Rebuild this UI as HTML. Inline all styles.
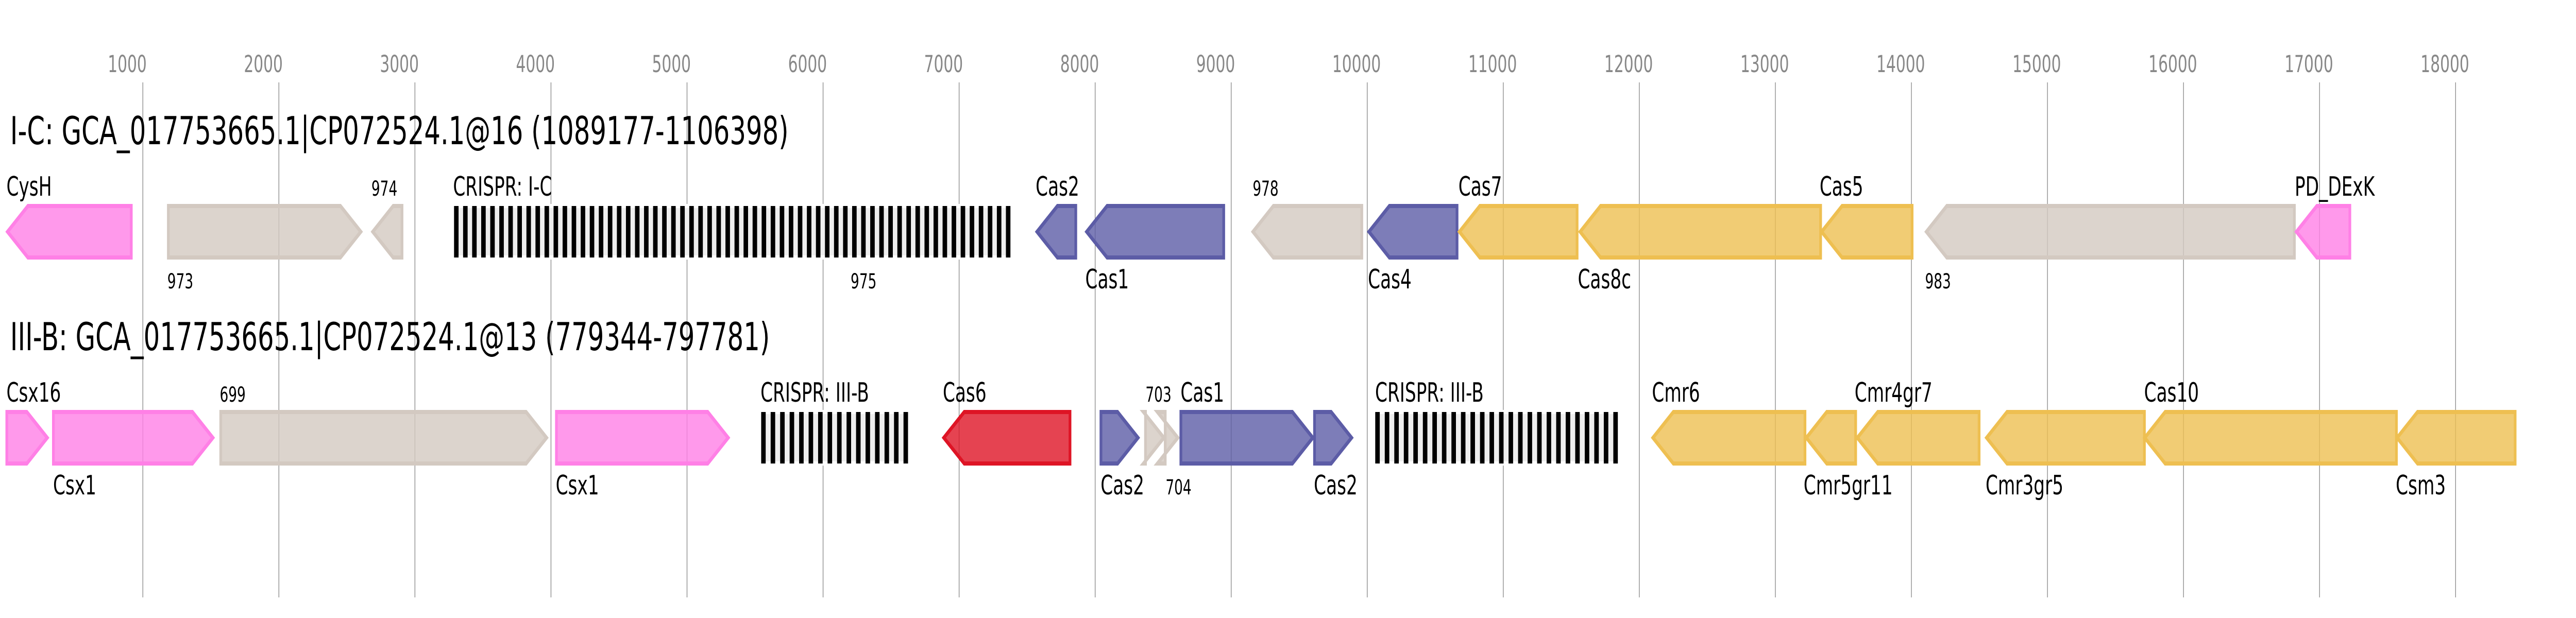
<!DOCTYPE html>
<html>
<head>
<meta charset="utf-8">
<style>
html,body{margin:0;padding:0;background:#fff;width:100%;height:100%;overflow:hidden;}
svg{display:block;width:100vw;height:100vh;}
text{font-family:"DejaVu Sans",sans-serif;fill:#000;}
.t{font-size:75.3px;}
.l{font-size:52px;}
.s{font-size:40px;}
.k{font-size:45px;fill:#888;}
.p{fill:#ff80e6;stroke:#ff80e6;}
.g{fill:#d3c9c1;stroke:#d3c9c1;}
.b{fill:#5c5ca6;stroke:#5c5ca6;}
.y{fill:#eebf51;stroke:#eebf51;}
.r{fill:#de1425;stroke:#de1425;}
polygon{stroke-width:8;fill-opacity:.8;stroke-linejoin:miter;stroke-miterlimit:10;}
.c{fill:#eee;stroke:#fff;stroke-width:8;}
.d{stroke:#000;stroke-width:100;}
</style>
</head>
<body>
<svg xmlns="http://www.w3.org/2000/svg" viewBox="0 0 7574 1200" preserveAspectRatio="none">
<rect width="7574" height="1200" fill="#fff"/>
<g stroke="#888" stroke-width="2">
<line x1="420" y1="160" x2="420" y2="1160"/>
<line x1="820" y1="160" x2="820" y2="1160"/>
<line x1="1220" y1="160" x2="1220" y2="1160"/>
<line x1="1620" y1="160" x2="1620" y2="1160"/>
<line x1="2020" y1="160" x2="2020" y2="1160"/>
<line x1="2420" y1="160" x2="2420" y2="1160"/>
<line x1="2820" y1="160" x2="2820" y2="1160"/>
<line x1="3220" y1="160" x2="3220" y2="1160"/>
<line x1="3620" y1="160" x2="3620" y2="1160"/>
<line x1="4020" y1="160" x2="4020" y2="1160"/>
<line x1="4420" y1="160" x2="4420" y2="1160"/>
<line x1="4820" y1="160" x2="4820" y2="1160"/>
<line x1="5220" y1="160" x2="5220" y2="1160"/>
<line x1="5620" y1="160" x2="5620" y2="1160"/>
<line x1="6020" y1="160" x2="6020" y2="1160"/>
<line x1="6420" y1="160" x2="6420" y2="1160"/>
<line x1="6820" y1="160" x2="6820" y2="1160"/>
<line x1="7220" y1="160" x2="7220" y2="1160"/>
</g>
<g class="tk">
<text class="k" x="317" y="140">1000</text>
<text class="k" x="717" y="140">2000</text>
<text class="k" x="1117" y="140">3000</text>
<text class="k" x="1517" y="140">4000</text>
<text class="k" x="1917" y="140">5000</text>
<text class="k" x="2317" y="140">6000</text>
<text class="k" x="2717" y="140">7000</text>
<text class="k" x="3117" y="140">8000</text>
<text class="k" x="3517" y="140">9000</text>
<text class="k" x="3917" y="140">10000</text>
<text class="k" x="4317" y="140">11000</text>
<text class="k" x="4717" y="140">12000</text>
<text class="k" x="5117" y="140">13000</text>
<text class="k" x="5517" y="140">14000</text>
<text class="k" x="5917" y="140">15000</text>
<text class="k" x="6317" y="140">16000</text>
<text class="k" x="6717" y="140">17000</text>
<text class="k" x="7117" y="140">18000</text>
</g>

<!-- Row 1 -->
<text class="t" x="30" y="280">I-C: GCA_017753665.1|CP072524.1@16 (1089177-1106398)</text>
<polygon class="p" points="386,400 82,400 22,450 82,500 386,500"/>
<polygon class="g" points="495,400 1001,400 1061,450 1001,500 495,500"/>
<polygon class="g" points="1182,400 1156,400 1096,450 1156,500 1182,500"/>
<rect class="c" x="1335" y="400" width="1636" height="100"/>
<line class="d" x1="1335" y1="450" x2="2971" y2="450" stroke-dasharray="13.3 13.3"/>
<polygon class="b" points="3163,400 3109,400 3049,450 3109,500 3163,500"/>
<polygon class="b" points="3598,400 3255,400 3195,450 3255,500 3598,500"/>
<polygon class="g" points="4004,400 3744,400 3684,450 3744,500 4004,500"/>
<polygon class="b" points="4284,400 4085,400 4025,450 4085,500 4284,500"/>
<polygon class="y" points="4637,400 4351,400 4291,450 4351,500 4637,500"/>
<polygon class="y" points="5353,400 4706,400 4646,450 4706,500 5353,500"/>
<polygon class="y" points="5622,400 5416,400 5356,450 5416,500 5622,500"/>
<polygon class="g" points="6746,400 5724,400 5664,450 5724,500 6746,500"/>
<polygon class="p" points="6909,400 6812,400 6752,450 6812,500 6909,500"/>

<text class="l" x="19" y="380">CysH</text>
<text class="s" x="1092" y="380">974</text>
<text class="l" x="1332" y="380">CRISPR: I-C</text>
<text class="l" x="3045" y="380">Cas2</text>
<text class="s" x="3683" y="380">978</text>
<text class="l" x="4288" y="380">Cas7</text>
<text class="l" x="5350" y="380">Cas5</text>
<text class="l" x="6747" y="380">PD_DExK</text>
<text class="s" x="492" y="560">973</text>
<text class="s" x="2501" y="560">975</text>
<text class="l" x="3191" y="560">Cas1</text>
<text class="l" x="4022" y="560">Cas4</text>
<text class="l" x="4639" y="560">Cas8c</text>
<text class="s" x="5660" y="560">983</text>

<!-- Row 2 -->
<text class="t" x="30" y="680">III-B: GCA_017753665.1|CP072524.1@13 (779344-797781)</text>
<polygon class="p" points="20,800 79,800 139,850 79,900 20,900"/>
<polygon class="p" points="157,800 566,800 626,850 566,900 157,900"/>
<polygon class="g" points="649,800 1547,800 1607,850 1547,900 649,900"/>
<polygon class="p" points="1636,800 2081,800 2141,850 2081,900 1636,900"/>
<rect class="c" x="2238" y="800" width="433" height="100"/>
<line class="d" x1="2238" y1="850" x2="2671" y2="850" stroke-dasharray="13.3 14.6"/>
<polygon class="r" points="3146,800 2835,800 2775,850 2835,900 3146,900"/>
<polygon class="b" points="3237,800 3286,800 3346,850 3286,900 3237,900"/>
<polygon class="g" points="3368,800 3362,800 3422,850 3362,900 3368,900"/>
<polygon class="g" points="3426,800 3403,800 3463,850 3403,900 3426,900"/>
<polygon class="b" points="3472,800 3800,800 3860,850 3800,900 3472,900"/>
<polygon class="b" points="3865,800 3914,800 3974,850 3914,900 3865,900"/>
<rect class="c" x="4043.5" y="800" width="713.5" height="100"/>
<line class="d" x1="4043.5" y1="850" x2="4757" y2="850" stroke-dasharray="13.3 14.7"/>
<polygon class="y" points="5307,800 4920,800 4860,850 4920,900 5307,900"/>
<polygon class="y" points="5456,800 5371,800 5311,850 5371,900 5456,900"/>
<polygon class="y" points="5819,800 5521,800 5461,850 5521,900 5819,900"/>
<polygon class="y" points="6305,800 5901,800 5841,850 5901,900 6305,900"/>
<polygon class="y" points="7046,800 6366,800 6306,850 6366,900 7046,900"/>
<polygon class="y" points="7395,800 7108,800 7048,850 7108,900 7395,900"/>

<text class="l" x="19" y="780">Csx16</text>
<text class="s" x="646" y="780">699</text>
<text class="l" x="2236" y="780">CRISPR: III-B</text>
<text class="l" x="2772" y="780">Cas6</text>
<text class="s" x="3368" y="780">703</text>
<text class="l" x="3471" y="780">Cas1</text>
<text class="l" x="4043" y="780">CRISPR: III-B</text>
<text class="l" x="4857" y="780">Cmr6</text>
<text class="l" x="5453" y="780">Cmr4gr7</text>
<text class="l" x="6304" y="780">Cas10</text>
<text class="l" x="156" y="960">Csx1</text>
<text class="l" x="1634" y="960">Csx1</text>
<text class="l" x="3236" y="960">Cas2</text>
<text class="s" x="3427" y="960">704</text>
<text class="l" x="3863" y="960">Cas2</text>
<text class="l" x="5303" y="960">Cmr5gr11</text>
<text class="l" x="5838" y="960">Cmr3gr5</text>
<text class="l" x="7044" y="960">Csm3</text>
</svg>
</body>
</html>
